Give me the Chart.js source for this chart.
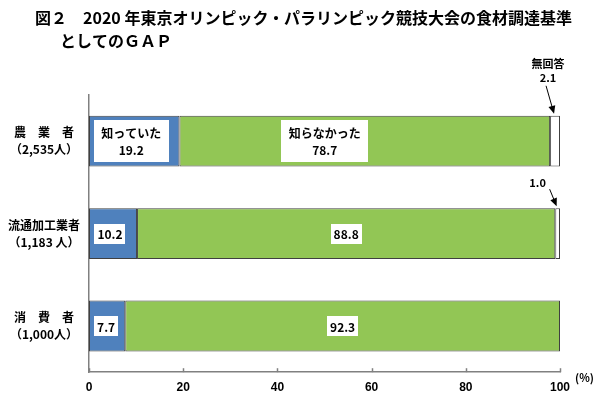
<!DOCTYPE html>
<html>
<head>
<meta charset="utf-8">
<script src="https://cdn.jsdelivr.net/npm/chart.js@4"></script>
<style>
  html, body { margin: 0; padding: 0; background: #fff; }
</style>
</head>
<body>
<canvas id="mycanvas" width="600" height="398"></canvas>
<script>
var titleLines = ['図２　2020 年東京オリンピック・パラリンピック競技大会の食材調達基準', 'としてのＧＡＰ'];
var groups = [['農　業　者', '（2,535人）'], ['流通加工業者', '（1,183 人）'], ['消　費　者', '（1,000人）']];
var seriesNames = ['知っていた', '知らなかった', '無回答'];
var knew = [19.2, 10.2, 7.7];
var didNotKnow = [78.7, 88.8, 92.3];
var noAnswer = [2.1, 1.0, 0];
var xTicks = [0, 20, 40, 60, 80, 100];

var JP = '"Noto Sans CJK JP", "Noto Sans", sans-serif';

// white boxes with the values inside the bars
var labelBoxes = {
  id: 'labelBoxes',
  afterDatasetsDraw: function(chart, args, opts) {
    var ctx = chart.ctx;
    ctx.save();
    ctx.font = 'bold 12px ' + JP;
    ctx.textAlign = 'center';
    ctx.textBaseline = 'middle';
    [0, 1].forEach(function(di) {
      chart.getDatasetMeta(di).data.forEach(function(bar, i) {
        var v = chart.data.datasets[di].data[i];
        var p = bar.getProps(['x', 'y', 'base'], true);
        var cx = (p.x + p.base) / 2 + opts.shift[di][i];
        var lines = i === 0 ? [seriesNames[di], v.toFixed(1)] : [v.toFixed(1)];
        var w = 0;
        lines.forEach(function(t) { w = Math.max(w, ctx.measureText(t).width); });
        var two = lines.length > 1;
        var bw = w + (two ? 15 : 6);
        var bh = two ? 42 : 20;
        ctx.fillStyle = '#fff';
        ctx.fillRect(Math.round(cx - bw / 2), Math.round(p.y - bh / 2), Math.round(bw), bh);
        ctx.fillStyle = '#000';
        if (two) {
          ctx.fillText(lines[0], cx, p.y - 8);
          ctx.fillText(lines[1], cx, p.y + 9);
        } else {
          ctx.fillText(lines[0], cx, p.y + 1);
        }
      });
    });
    ctx.restore();
  }
};

// callouts with arrows for 無回答
var callouts = {
  id: 'callouts',
  afterDatasetsDraw: function(chart, args, opts) {
    var ctx = chart.ctx;
    ctx.save();
    ctx.font = 'bold 11px ' + JP;
    ctx.textAlign = 'center';
    ctx.textBaseline = 'middle';
    chart.getDatasetMeta(2).data.forEach(function(bar, i) {
      var v = noAnswer[i];
      if (!v) return;
      var p = bar.getProps(['x', 'y', 'base', 'height'], true);
      var c = opts.place[i];
      var tx = (p.x + p.base) / 2 - 1;
      var ty = p.y - p.height / 2 - 2;
      ctx.fillStyle = '#000';
      if (i === 0) {
        ctx.fillText(seriesNames[2], tx + c.tx, ty + c.ty - 14);
        ctx.fillText(v.toFixed(1), tx + c.tx, ty + c.ty);
      } else {
        ctx.fillText(v.toFixed(1), tx + c.tx, ty + c.ty);
      }
      var sx = tx + c.ax, sy = ty + c.ay;
      var ang = Math.atan2(ty - sy, tx - sx);
      ctx.strokeStyle = '#000';
      ctx.lineWidth = 1;
      ctx.beginPath();
      ctx.moveTo(sx, sy);
      ctx.lineTo(tx - 6 * Math.cos(ang), ty - 6 * Math.sin(ang));
      ctx.stroke();
      ctx.beginPath();
      ctx.moveTo(tx, ty);
      ctx.lineTo(tx - 8 * Math.cos(ang) + 3.5 * Math.sin(ang), ty - 8 * Math.sin(ang) - 3.5 * Math.cos(ang));
      ctx.lineTo(tx - 8 * Math.cos(ang) - 3.5 * Math.sin(ang), ty - 8 * Math.sin(ang) + 3.5 * Math.cos(ang));
      ctx.closePath();
      ctx.fill();
    });
    ctx.restore();
  }
};

// title, upward tick marks and (%) unit
var decor = {
  id: 'decor',
  afterDraw: function(chart) {
    var ctx = chart.ctx;
    var xs = chart.scales.x;
    ctx.save();
    ctx.fillStyle = '#000';
    ctx.textBaseline = 'middle';
    ctx.textAlign = 'left';
    ctx.font = 'bold 16px ' + JP;
    ctx.fillText(titleLines[0], 35, 18);
    ctx.fillText(titleLines[1], 60, 41);
    ctx.strokeStyle = '#808080';
    ctx.lineWidth = 1.5;
    xTicks.forEach(function(v) {
      var x = Math.round(xs.getPixelForValue(v)) + 0.5;
      ctx.beginPath();
      ctx.moveTo(x, xs.top);
      ctx.lineTo(x, xs.top - 4);
      ctx.stroke();
    });
    ctx.font = 'bold 11px ' + JP;
    ctx.fillText('(%)', 575, 378);
    ctx.restore();
  }
};

var ctx = document.getElementById('mycanvas');

var barGraph = new Chart(ctx, {
  type: 'bar',
  data: {
    labels: groups,
    datasets: [
      { label: seriesNames[0], data: knew, backgroundColor: '#4f81bd' },
      { label: seriesNames[1], data: didNotKnow, backgroundColor: '#92c655' },
      { label: seriesNames[2], data: noAnswer, backgroundColor: '#ffffff' }
    ]
  },
  options: {
    indexAxis: 'y',
    responsive: false,
    animation: false,
    datasets: {
      bar: {
        borderColor: '#404040',
        borderWidth: 1,
        borderSkipped: false,
        barPercentage: 0.55,
        categoryPercentage: 1
      }
    },
    layout: { padding: { top: 95, right: 40, left: 0, bottom: 0 } },
    plugins: {
      legend: { display: false },
      tooltip: { enabled: false },
      labelBoxes: { shift: [[-3, -3, -1], [-40, 0, 0]] },
      callouts: { place: [ { tx: -6, ty: -36, ax: -8, ay: -28 }, { tx: -19, ty: -23, ax: -7, ay: -17 } ] }
    },
    scales: {
      x: {
        stacked: true,
        min: 0,
        max: 100,
        afterBuildTicks: function(s) { s.ticks = xTicks.map(function(v) { return { value: v }; }); },
        afterFit: function(s) { s.height = 24; },
        grid: { display: false, drawTicks: false },
        border: { display: true, color: '#808080', width: 1.5 },
        ticks: { padding: 8, color: '#000', font: { family: '"Liberation Sans", Arial', weight: 'bold', size: 12 } }
      },
      y: {
        stacked: true,
        afterFit: function(s) { s.width = 89; },
        grid: { display: false, drawTicks: false },
        border: { display: true, color: '#808080', width: 1.5 },
        ticks: { crossAlign: 'center', padding: 9, color: '#000', font: { family: JP, weight: 'bold', size: 12, lineHeight: 1.4 } }
      }
    }
  },
  plugins: [labelBoxes, callouts, decor]
});
</script>
</body>
</html>
